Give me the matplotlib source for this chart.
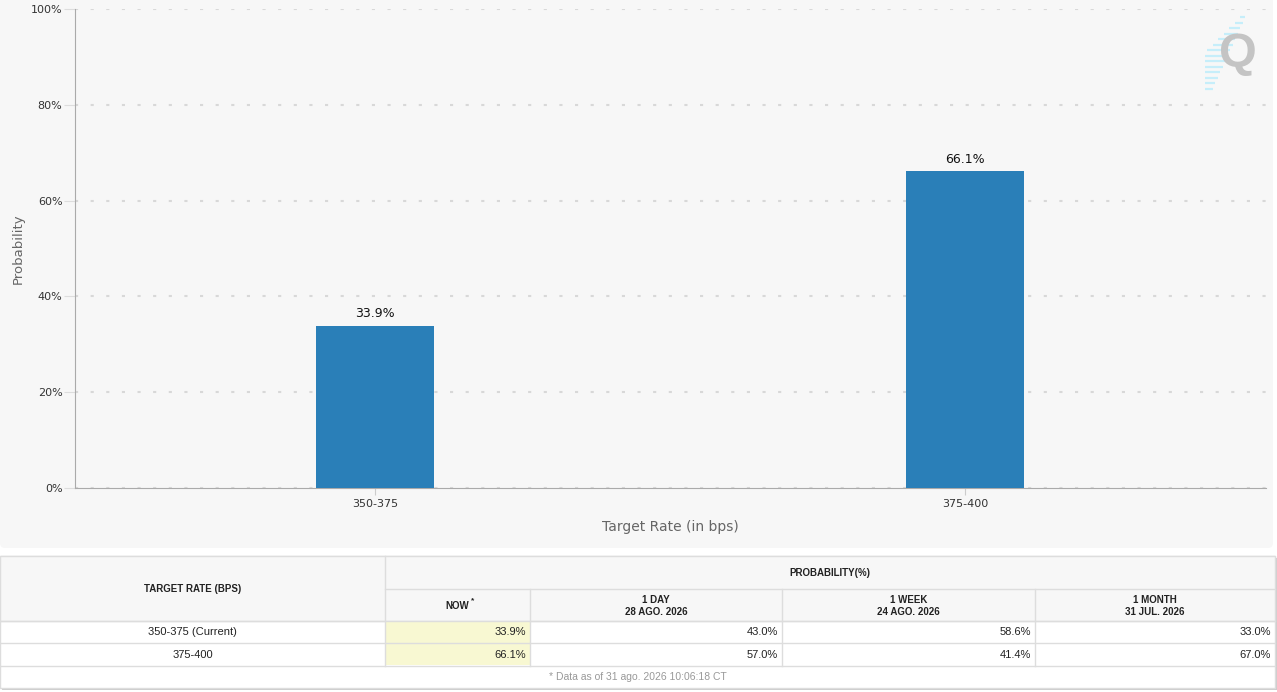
import numpy as np
import matplotlib.pyplot as plt
from matplotlib.patches import Rectangle, FancyBboxPatch

# chart data
rates = ["350-375", "375-400"]
probs = [33.9, 66.1]

# table data
row_labels = ["350-375 (Current)", "375-400"]
now_vals = ["33.9%", "66.1%"]
day_vals = ["43.0%", "57.0%"]
week_vals = ["58.6%", "41.4%"]
month_vals = ["33.0%", "67.0%"]
col_heads = ["NOW", "1 DAY\n28 AGO. 2026", "1 WEEK\n24 AGO. 2026", "1 MONTH\n31 JUL. 2026"]
footnote = "* Data as of 31 ago. 2026 10:06:18 CT"

W, H = 1277, 692
fig = plt.figure(figsize=(W / 100, H / 100), dpi=100)
fig.patch.set_facecolor("white")

# background layer in pixel coords
bg = fig.add_axes([0, 0, 1, 1])
bg.set_xlim(0, W)
bg.set_ylim(H, 0)
bg.axis("off")
bg.add_patch(FancyBboxPatch((0, -10), 1273, 558, boxstyle="round,pad=0,rounding_size=5",
                            fc="#f7f7f7", ec="none"))

# logo
for y in np.arange(17, 89, 5.5):
    left = max(1205, 1242 - (y - 15) * 1.0)
    right = 1246 - (y - 15) * 0.45
    bg.plot([left, right], [y, y], color="#c6eefa", lw=1.6, solid_capstyle="butt", zorder=1)
bg.text(1238, 54, "Q", fontsize=35, fontweight="bold", color="#c4c4c4",
        ha="center", va="center", family="Liberation Sans", zorder=2)

# chart axes
ax = fig.add_axes([75 / W, (H - 488) / H, 1191 / W, 479 / H])
ax.set_facecolor("none")
x = np.arange(len(rates))
bars = ax.bar(x, probs, width=0.2, color="#2a7fb8", zorder=3)
for xi, p in zip(x, probs):
    ax.text(xi, p + 1.2, f"{p:.1f}%", ha="center", va="bottom", fontsize=9, color="#111111")

ax.set_xlim(-0.508, 1.51)
ax.set_ylim(0, 100)
ax.set_yticks(np.arange(0, 101, 20))
ax.set_yticklabels([f"{v}%" for v in range(0, 101, 20)])
ax.set_xticks(x)
ax.set_xticklabels(rates)
ax.yaxis.grid(True, color="#d8d8d8", linestyle=(0, (1.5, 6)), linewidth=1.5)
ax.set_axisbelow(True)
for s in ["top", "right"]:
    ax.spines[s].set_visible(False)
ax.spines["left"].set_color("#aaaaaa")
ax.spines["bottom"].set_color("#aaaaaa")
ax.tick_params(axis="y", length=8, color="#dddddd", labelsize=8, labelcolor="#333333", pad=1)
ax.tick_params(axis="x", length=5, color="#cccccc", labelsize=8, labelcolor="#333333", pad=3)
ax.set_xlabel("Target Rate (in bps)", fontsize=10, color="#666666", labelpad=8)
ax.set_ylabel("Probability", fontsize=9.5, color="#666666")
ax.yaxis.set_label_coords(-0.042, 0.5)

# table
cols = [0, 385, 530, 782, 1035, 1275]
rows = [556, 589, 621, 643, 666, 688]
line = "#dddddd"
tf = "Liberation Sans"

# shadow
bg.add_patch(Rectangle((2, 558), 1275, 132, fc="#cccccc", ec="none"))
bg.add_patch(Rectangle((0, rows[0]), cols[-1], rows[-1] - rows[0], fc="white", ec=line, lw=1))
bg.add_patch(Rectangle((0, rows[0]), cols[-1], rows[2] - rows[0], fc="#f7f7f7", ec=line, lw=1))
for r in range(2):
    bg.add_patch(Rectangle((cols[1], rows[2 + r]), cols[2] - cols[1], rows[3] - rows[2],
                           fc="#f8f8d2", ec="none"))
# grid lines
for y in rows[2:5]:
    bg.plot([0, cols[-1]], [y, y], color=line, lw=1)
bg.plot([cols[1], cols[-1]], [rows[1], rows[1]], color=line, lw=1)
bg.plot([cols[1], cols[1]], [rows[0], rows[4]], color=line, lw=1)
for c in cols[2:5]:
    bg.plot([c, c], [rows[1], rows[4]], color=line, lw=1)

bg.text(cols[1] / 2, rows[1], "TARGET RATE (BPS)", ha="center", va="center",
        fontsize=7, fontweight="bold", family=tf, color="#222222")
bg.text((cols[1] + cols[-1]) / 2, (rows[0] + rows[1]) / 2, "PROBABILITY(%)", ha="center",
        va="center", fontsize=7, fontweight="bold", family=tf, color="#222222")
for i, head in enumerate(col_heads):
    cx = (cols[i + 1] + cols[i + 2]) / 2
    cy = (rows[1] + rows[2]) / 2 + 1
    if i == 0:
        bg.text(cx, cy, "NOW", ha="center", va="center", fontsize=7, fontweight="bold",
                family=tf, color="#222222")
        bg.text(cx + 15, cy - 5, "*", ha="center", va="center", fontsize=6,
                fontweight="bold", family=tf, color="#222222")
    else:
        bg.text(cx, cy, head, ha="center", va="center", fontsize=7, fontweight="bold",
                family=tf, color="#222222", linespacing=1.35)

table_vals = [now_vals, day_vals, week_vals, month_vals]
for r, lab in enumerate(row_labels):
    cy = (rows[2 + r] + rows[3 + r]) / 2
    bg.text(cols[1] / 2, cy, lab, ha="center", va="center", fontsize=8, family=tf, color="#222222")
    for c, vals in enumerate(table_vals):
        bg.text(cols[c + 2] - 4, cy, vals[r], ha="right", va="center", fontsize=8,
                family=tf, color="#222222")

bg.text(cols[-1] / 2, (rows[4] + rows[5]) / 2, footnote, ha="center", va="center",
        fontsize=7.5, family=tf, color="#999999")

fig.savefig("out.png", dpi=100)
